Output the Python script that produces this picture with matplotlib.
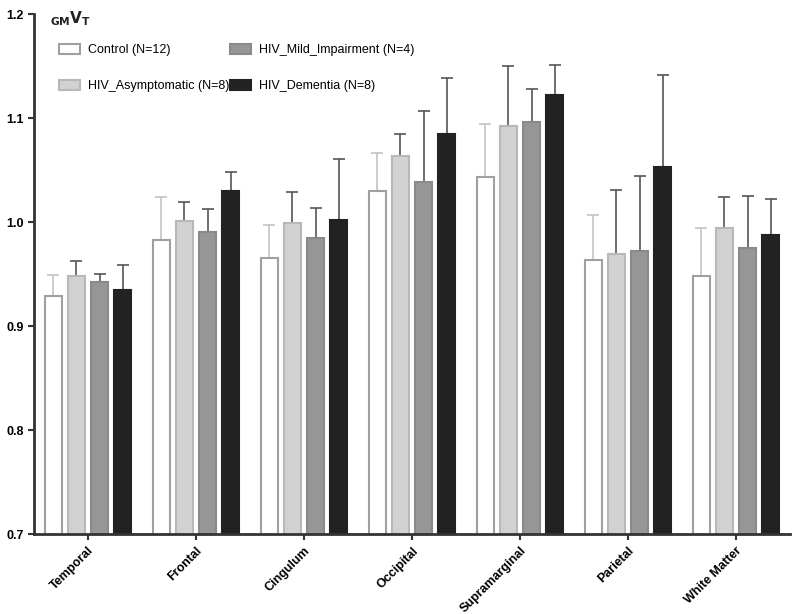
import numpy as np
import matplotlib.pyplot as plt

regions = ['Temporal', 'Frontal', 'Cingulum', 'Occipital', 'Supramarginal', 'Parietal', 'White Matter']
groups = ['Control (N=12)', 'HIV_Asymptomatic (N=8)', 'HIV_Mild_Impairment (N=4)', 'HIV_Dementia (N=8)']

control = [0.929, 0.983, 0.966, 1.030, 1.043, 0.964, 0.948]
asympt = [0.948, 1.001, 0.999, 1.064, 1.092, 0.969, 0.994]
mild = [0.942, 0.991, 0.985, 1.039, 1.096, 0.972, 0.975]
dementia = [0.935, 1.030, 1.002, 1.085, 1.122, 1.053, 0.988]

control_err = [0.020, 0.041, 0.031, 0.036, 0.051, 0.043, 0.046]
asympt_err = [0.015, 0.018, 0.030, 0.021, 0.058, 0.062, 0.030]
mild_err = [0.008, 0.022, 0.029, 0.068, 0.032, 0.072, 0.050]
dementia_err = [0.024, 0.018, 0.059, 0.054, 0.029, 0.088, 0.034]

plt.rcParams['font.family'] = ['Liberation Sans', 'DejaVu Sans']

fig = plt.figure(figsize=(8, 6.14), dpi=100)
ax = fig.add_axes([0.0425, 0.13, 0.945, 0.847])

x = np.arange(len(regions))
w = 0.153
step = 0.213
vals = [control, asympt, mild, dementia]
errs = [control_err, asympt_err, mild_err, dementia_err]
faces = ['white', '#d2d2d2', '#969696', '#222222']
edges = ['#a0a0a0', '#b8b8b8', '#8a8a8a', '#222222']
ecols = ['#c4c4c4', '#555555', '#555555', '#555555']

for i in range(4):
    pos = x + (i - 1.5) * step
    ax.bar(pos, vals[i], w, bottom=0, color=faces[i], edgecolor=edges[i],
           linewidth=1.5, label=groups[i], zorder=2)
    ax.errorbar(pos, vals[i], yerr=[np.zeros(7), errs[i]], fmt='none',
                ecolor=ecols[i], elinewidth=1.2, capsize=4, capthick=1.2, zorder=1)

ax.set_ylim(0.7, 1.2)
ax.set_xlim(-0.5, 6.5)
ax.set_yticks([0.7, 0.8, 0.9, 1.0, 1.1, 1.2])
ax.set_yticklabels(['0.7', '0.8', '0.9', '1.0', '1.1', '1.2'], fontweight='bold', fontsize=9)
ax.set_xticks(x)
ax.set_xticklabels(regions, rotation=45, ha='right', rotation_mode='anchor',
                   fontweight='bold', fontsize=9)

for s in ['top', 'right']:
    ax.spines[s].set_visible(False)
for s in ['left', 'bottom']:
    ax.spines[s].set_linewidth(2)
    ax.spines[s].set_color('#333333')
ax.tick_params(axis='both', color='#333333', width=1.5, length=4)

fig.text(0.062, 0.962, r'$_{\mathbf{GM}}\mathbf{V}_{\mathbf{T}}$', fontsize=11, color='#222222')

ax.legend(loc='upper left', bbox_to_anchor=(0.018, 0.965), ncol=2, frameon=False,
          fontsize=9, handlelength=1.7, handleheight=0.9, labelspacing=1.9,
          columnspacing=0.1, handletextpad=0.6)

fig.savefig('out.png', dpi=100)
